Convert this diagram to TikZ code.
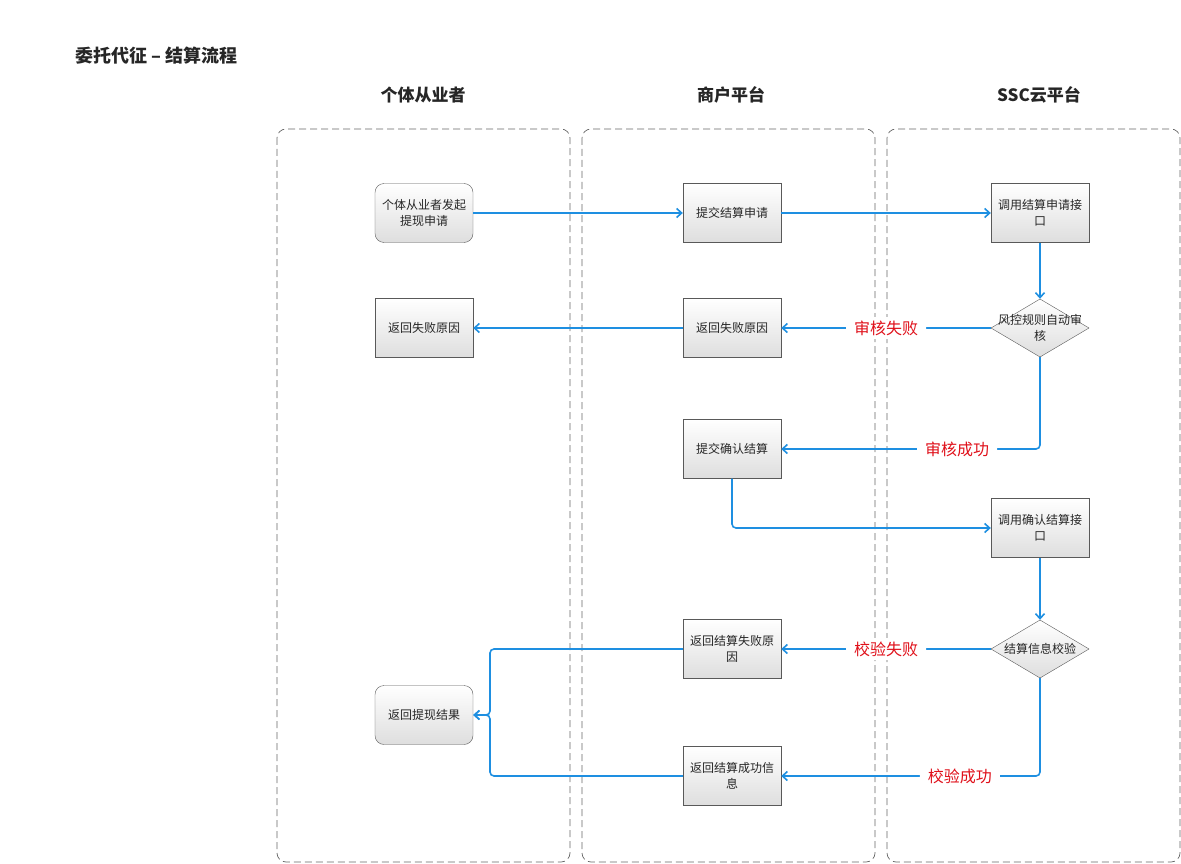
\documentclass[tikz,border=0pt]{standalone}
\usepackage{fontspec}
\setmainfont{Noto Sans CJK SC}
\usetikzlibrary{shapes.geometric,arrows.meta}
\definecolor{lnblue}{HTML}{1E8FE1}
\definecolor{lbred}{HTML}{E0101A}
\tikzset{
 lane/.style={draw=black!60,dashed,dash pattern=on 7pt off 4pt,rounded corners=9pt,line width=0.7pt},
 box/.style={draw=black!65,top color=white,bottom color=black!13,minimum width=98pt,minimum height=59pt,align=center,font=\fontsize{12}{16}\selectfont,text=black!85,inner sep=2pt},
 rbox/.style={box,rounded corners=9pt},
 dia/.style={minimum width=98pt,minimum height=58pt,align=center,font=\fontsize{12}{16}\selectfont,text=black!85,inner sep=0pt},
 diashape/.style={draw=black!65,top color=white,bottom color=black!13},
 flow/.style={draw=lnblue,line width=1.6pt,-{Straight Barb[length=5pt,width=9pt]},rounded corners=4pt},
 lbl/.style={fill=white,text=lbred,font=\fontsize{16}{19}\selectfont,inner xsep=8pt},
 head/.style={font=\bfseries\fontsize{17}{20}\selectfont,text=black!85}
}
\begin{document}
\begin{tikzpicture}[x=1pt,y=-1pt]
\useasboundingbox (0,0) rectangle (1181,864);
\node[anchor=west,font=\bfseries\fontsize{18}{21}\selectfont,text=black!85] (title) at (72,56) {委托代征 – 结算流程};
\node[head] (h1) at (423,95) {个体从业者};
\node[head] (h2) at (731,95) {商户平台};
\node[head] (h3) at (1039,95) {SSC云平台};
\draw[lane] (277,129) rectangle (570,862);
\draw[lane] (582,129) rectangle (875,862);
\draw[lane] (887,129) rectangle (1180,862);
\node[rbox] (a1) at (424,213) {个体从业者发起\\提现申请};
\node[box] (b1) at (732,213) {提交结算申请};
\node[box] (c1) at (1040,213) {调用结算申请接\\口};
\draw[diashape] (991,328) -- (1040,299) -- (1089,328) -- (1040,357) -- cycle;
\node[dia] (d1) at (1040,328) {风控规则自动审\\核};
\node[box] (b2) at (732,328) {返回失败原因};
\node[box] (a2) at (424,328) {返回失败原因};
\node[box] (b3) at (732,449) {提交确认结算};
\node[box] (c2) at (1040,528) {调用确认结算接\\口};
\draw[diashape] (991,649) -- (1040,620) -- (1089,649) -- (1040,678) -- cycle;
\node[dia] (d2) at (1040,649) {结算信息校验};
\node[box] (b4) at (732,649) {返回结算失败原\\因};
\node[rbox] (a3) at (424,715) {返回提现结果};
\node[box] (b5) at (732,776) {返回结算成功信\\息};
\coordinate (m1) at (490,649);
\coordinate (m2) at (490,776);
\draw[flow] (a1) -- (b1);
\draw[flow] (b1) -- (c1);
\draw[flow] (c1) -- (d1);
\draw[flow] (d1) -- node[lbl,pos=0.5] {审核失败} (b2);
\draw[flow] (b2) -- (a2);
\draw[flow] (d1.south) |- node[lbl,pos=0.66] {审核成功} (b3);
\draw[flow] (b3.south) |- (c2);
\draw[flow] (c2) -- (d2);
\draw[flow] (d2) -- node[lbl,pos=0.5] {校验失败} (b4);
\draw[flow] (d2.south) |- node[lbl,pos=0.655] {校验成功} (b5);
\draw[flow] (b4) -- (m1) |- (a3);
\draw[flow] (b5) -- (m2) |- (a3);
\end{tikzpicture}
\end{document}
